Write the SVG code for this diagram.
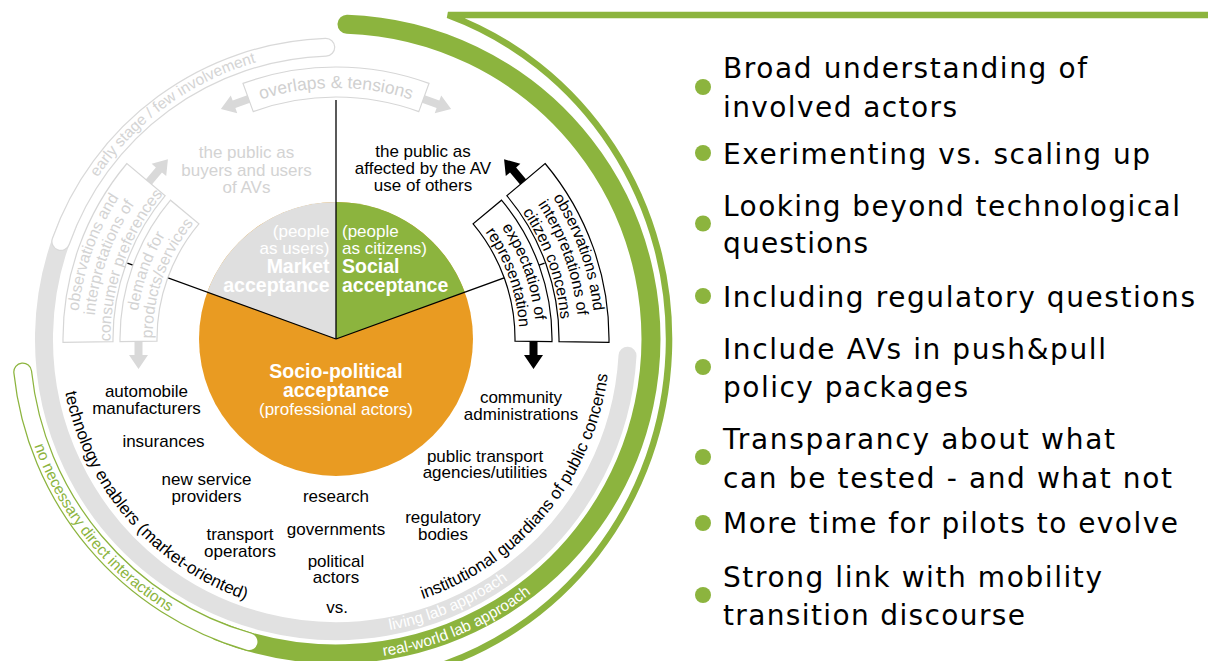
<svg xmlns="http://www.w3.org/2000/svg" width="1208" height="661" viewBox="0 0 1208 661">
<style>
 .lbl{font-family:"Liberation Sans",Arial,sans-serif;font-size:17px;fill:#000;text-anchor:middle}
 .faint{fill:#d3d3d3}
 .pie{font-family:"Liberation Sans",Arial,sans-serif;fill:#fff;font-size:17px}
 .bold{font-size:19.5px;font-weight:bold}
 .gbox{fill:#fff;stroke:#d6d6d6;stroke-width:1.2}
 .kbox{fill:#fff;stroke:#000;stroke-width:1.2}
 .bt{font-family:"Liberation Sans",Arial,sans-serif;font-size:16px;text-anchor:middle}
 .bul{font-family:"DejaVu Sans",Verdana,sans-serif;font-size:28px;fill:#000}
 .dot{fill:#8cb43e}
 .ln{stroke:#000;stroke-width:1.3;fill:none}
 .ring{fill:none;stroke-linecap:round}
 .rt{font-family:"Liberation Sans",Arial,sans-serif;text-anchor:middle}
</style>
<defs>
 <path id="arr" d="M0,-4 H17 V-9.5 L31,0 L17,9.5 V4 H0 Z"/>
 <path id="tpEarly" d="M49.6,369.1 A288,288 0 0 1 453.1,75.9"/>
 <path id="tpOver" d="M118.6,213.5 A251,251 0 0 1 553.4,213.5"/>
 <path id="tpA1" d="M139.3,506.0 A257,257 0 0 1 289.6,85.2"/>
 <path id="tpA2" d="M151.5,495.6 A241.5,241.5 0 0 1 292.5,100.9"/>
 <path id="tpA3" d="M163.7,485.3 A226.5,226.5 0 0 1 295.4,116.7"/>
 <path id="tpB1" d="M183.5,468.4 A200,200 0 0 1 300.1,142.3"/>
 <path id="tpB2" d="M195.7,458.1 A184.5,184.5 0 0 1 302.9,158.0"/>
 <path id="tpC1" d="M382.4,85.2 A257,257 0 0 1 532.7,506.0"/>
 <path id="tpC2" d="M379.5,100.9 A241.5,241.5 0 0 1 520.5,495.6"/>
 <path id="tpC3" d="M376.6,116.7 A226.5,226.5 0 0 1 508.3,485.3"/>
 <path id="tpD1" d="M371.9,142.3 A200,200 0 0 1 488.5,468.4"/>
 <path id="tpD2" d="M369.1,158.0 A184.5,184.5 0 0 1 476.3,458.1"/>
 <path id="tpTech" d="M75.0,249.1 A276,276 0 0 0 388.7,609.9"/>
 <path id="tpInst" d="M290.8,609.2 A274,274 0 0 0 592.7,243.0"/>
 <path id="tpLiving" d="M157.9,575.4 A296,296 0 0 0 629.8,375.1"/>
 <path id="tpReal" d="M143.1,595.0 A320.5,320.5 0 0 0 654.1,378.1"/>
 <path id="tpNo" d="M37.3,224.3 A320,320 0 0 0 386.1,655.1"/>
</defs>

<g id="rings">
 <path d="M1208,15 L447.9,15 A333,344 0 0 1 422.2,671.3" fill="none" stroke="#8cb43e" stroke-width="6.5"/>
 <path class="ring" d="M347.0,24.2 A315,315 0 1 1 218.0,631.1" stroke="#8cb43e" stroke-width="19"/>
 <path class="ring" d="M22.7,371.9 A315,315 0 0 0 249.2,641.8" stroke="#8cb43e" stroke-width="19"/>
 <path class="ring" d="M22.7,371.9 A315,315 0 0 0 249.2,641.8" stroke="#fff" stroke-width="16.5"/>
 <path class="ring" d="M627.5,355.8 A292,292 0 1 1 71.4,215.6" stroke="#e1e1e1" stroke-width="18"/>
 <path class="ring" d="M60.8,241.5 A292,292 0 0 1 325.8,47.2" stroke="#d9d9d9" stroke-width="19"/>
 <path class="ring" d="M60.8,241.5 A292,292 0 0 1 325.8,47.2" stroke="#fff" stroke-width="16.6"/>
 <text class="rt" font-size="15.5" fill="#d4d4d4"><textPath href="#tpEarly" startOffset="50%">early stage / few involvement</textPath></text>
 <text class="rt" font-size="15.5" fill="#fff"><textPath href="#tpLiving" startOffset="50%">living lab approach</textPath></text>
 <text class="rt" font-size="15.5" fill="#fff"><textPath href="#tpReal" startOffset="50%">real-world lab approach</textPath></text>
 <text class="rt" font-size="15.5" fill="#8cb43e"><textPath href="#tpNo" startOffset="50%">no necessary direct interactions</textPath></text>
 <text class="rt" font-size="17" fill="#000"><textPath href="#tpTech" startOffset="50%">technology enablers (market-oriented)</textPath></text>
 <text class="rt" font-size="17" fill="#000"><textPath href="#tpInst" startOffset="50%">institutional guardians of public concerns</textPath></text>
</g>

<g id="pie">
 <circle id="socio" cx="336" cy="339" r="137" fill="#e99b22"/>
 <path id="market" d="M336,339 L207.3,292.1 A137,137 0 0 1 336,202 Z" fill="#dfdfdf"/>
 <path id="social" d="M336,339 L336,202 A137,137 0 0 1 464.7,292.1 Z" fill="#8cb43e"/>
</g>

<g id="connectors">
 <line class="ln" x1="336" y1="339" x2="336" y2="100"/>
 <line class="ln" x1="336" y1="339" x2="127.4" y2="263.1"/>
 <line class="ln" x1="336" y1="339" x2="544.6" y2="263.1"/>
 <use href="#arr" fill="#d9d9d9" transform="translate(250,98.5) rotate(160)"/>
 <use href="#arr" fill="#d9d9d9" transform="translate(422,98.5) rotate(20)"/>
 <use href="#arr" fill="#d9d9d9" transform="translate(148,183) rotate(-50)"/>
 <use href="#arr" fill="#d9d9d9" transform="translate(138.5,338) rotate(90)"/>
 <use href="#arr" fill="#000" transform="translate(524,183) rotate(-130)"/>
 <use href="#arr" fill="#000" transform="translate(533.5,338) rotate(90)"/>
</g>

<g id="pie-labels">
 <text class="pie" text-anchor="end"><tspan x="329.5" y="237">(people</tspan><tspan x="329.5" y="254">as users)</tspan><tspan class="bold" x="329.5" y="273">Market</tspan><tspan class="bold" x="329.5" y="292">acceptance</tspan></text>
 <text class="pie"><tspan x="342" y="237">(people</tspan><tspan x="342" y="254">as citizens)</tspan><tspan class="bold" x="342" y="273">Social</tspan><tspan class="bold" x="342" y="292">acceptance</tspan></text>
 <text class="pie" text-anchor="middle"><tspan class="bold" x="336" y="378">Socio-political</tspan><tspan class="bold" x="336" y="397">acceptance</tspan><tspan x="336" y="415">(professional actors)</tspan></text>
</g>

<g id="box-overlaps">
 <path class="gbox" d="M243.0,83.4 A272,272 0 0 1 429.0,83.4 L418.8,111.6 A242,242 0 0 0 253.2,111.6 Z"/>
 <text class="rt" font-size="17.5" fill="#d0d0d0"><textPath href="#tpOver" startOffset="50%">overlaps &amp; tensions</textPath></text>
</g>

<g id="box-consumer">
 <path class="gbox" d="M63.0,342.3 A273,273 0 0 1 126.9,163.5 L165.2,195.7 A223,223 0 0 0 113.0,341.7 Z"/>
 <text class="bt faint"><textPath href="#tpA1" startOffset="50%">observations and</textPath></text>
 <text class="bt faint"><textPath href="#tpA2" startOffset="50%">interpretations of</textPath></text>
 <text class="bt faint"><textPath href="#tpA3" startOffset="50%">consumer preferences</textPath></text>
</g>
<g id="box-demand">
 <path class="gbox" d="M120.0,341.6 A216,216 0 0 1 170.5,200.2 L198.9,223.9 A179,179 0 0 0 157.0,341.2 Z"/>
 <text class="bt faint"><textPath href="#tpB1" startOffset="50%">demand for</textPath></text>
 <text class="bt faint"><textPath href="#tpB2" startOffset="50%">products/services</textPath></text>
</g>
<g id="box-citizen">
 <path class="kbox" d="M545.1,163.5 A273,273 0 0 1 609.0,342.3 L559.0,341.7 A223,223 0 0 0 506.8,195.7 Z"/>
 <text class="bt"><textPath href="#tpC1" startOffset="50%">observations and</textPath></text>
 <text class="bt"><textPath href="#tpC2" startOffset="50%">interpretations of</textPath></text>
 <text class="bt"><textPath href="#tpC3" startOffset="50%">citizen concerns</textPath></text>
</g>
<g id="box-representation">
 <path class="kbox" d="M501.5,200.2 A216,216 0 0 1 552.0,341.6 L515.0,341.2 A179,179 0 0 0 473.1,223.9 Z"/>
 <text class="bt"><textPath href="#tpD1" startOffset="50%">expectation of</textPath></text>
 <text class="bt"><textPath href="#tpD2" startOffset="50%">representation</textPath></text>
</g>

<g id="labels">
 <text class="lbl faint"><tspan x="246.5" y="158.3">the public as</tspan><tspan x="246.5" y="175.7">buyers and users</tspan><tspan x="246.5" y="192.7">of AVs</tspan></text>
 <text class="lbl"><tspan x="423" y="157.3">the public as</tspan><tspan x="423" y="174">affected by the AV</tspan><tspan x="423" y="190.7">use of others</tspan></text>
 <text class="lbl"><tspan x="146.5" y="397">automobile</tspan><tspan x="146.5" y="413.5">manufacturers</tspan></text>
 <text class="lbl" x="163.5" y="447">insurances</text>
 <text class="lbl"><tspan x="206.5" y="485">new service</tspan><tspan x="206.5" y="501.7">providers</tspan></text>
 <text class="lbl"><tspan x="240" y="540">transport</tspan><tspan x="240" y="556.7">operators</tspan></text>
 <text class="lbl" x="336" y="501.7">research</text>
 <text class="lbl" x="336" y="535">governments</text>
 <text class="lbl"><tspan x="336" y="566.7">political</tspan><tspan x="336" y="583.3">actors</tspan></text>
 <text class="lbl" x="337" y="613.3">vs.</text>
 <text class="lbl"><tspan x="521" y="403.3">community</tspan><tspan x="521" y="420">administrations</tspan></text>
 <text class="lbl"><tspan x="485" y="461.7">public transport</tspan><tspan x="485" y="478.3">agencies/utilities</tspan></text>
 <text class="lbl"><tspan x="443" y="523.3">regulatory</tspan><tspan x="443" y="540">bodies</tspan></text>
</g>

<g id="bullets">
 <circle class="dot" cx="703" cy="87" r="8"/>
 <text class="bul"><tspan x="723" y="78.3" textLength="364" lengthAdjust="spacing">Broad understanding of</tspan><tspan x="723" y="117.3" textLength="234" lengthAdjust="spacing">involved actors</tspan></text>
 <circle class="dot" cx="703" cy="153" r="8"/>
 <text class="bul" x="723" y="164" textLength="427" lengthAdjust="spacing">Exerimenting vs. scaling up</text>
 <circle class="dot" cx="703" cy="223.5" r="8"/>
 <text class="bul"><tspan x="723" y="215.7" textLength="457" lengthAdjust="spacing">Looking beyond technological</tspan><tspan x="723" y="253.3" textLength="145" lengthAdjust="spacing">questions</tspan></text>
 <circle class="dot" cx="703" cy="296" r="8"/>
 <text class="bul" x="723" y="306.7" textLength="472" lengthAdjust="spacing">Including regulatory questions</text>
 <circle class="dot" cx="703" cy="367" r="8"/>
 <text class="bul"><tspan x="723" y="359.3" textLength="383" lengthAdjust="spacing">Include AVs in push&amp;pull</tspan><tspan x="723" y="397.3" textLength="245" lengthAdjust="spacing">policy packages</tspan></text>
 <circle class="dot" cx="703" cy="457" r="8"/>
 <text class="bul"><tspan x="723" y="449.3" textLength="392" lengthAdjust="spacing">Transparancy about what</tspan><tspan x="723" y="487.7" textLength="449" lengthAdjust="spacing">can be tested - and what not</tspan></text>
 <circle class="dot" cx="703" cy="523" r="8"/>
 <text class="bul" x="723" y="533.3" textLength="455" lengthAdjust="spacing">More time for pilots to evolve</text>
 <circle class="dot" cx="703" cy="595" r="8"/>
 <text class="bul"><tspan x="723" y="586.7" textLength="379" lengthAdjust="spacing">Strong link with mobility</tspan><tspan x="723" y="625" textLength="302" lengthAdjust="spacing">transition discourse</tspan></text>
</g>
</svg>
